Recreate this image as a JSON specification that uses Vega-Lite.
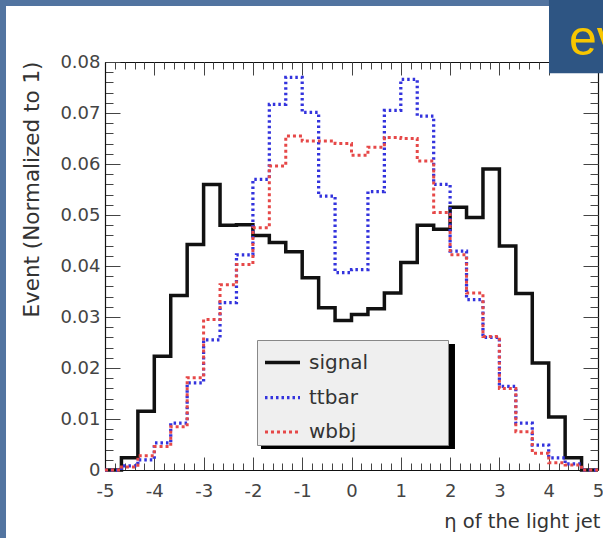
{
  "$schema": "https://vega.github.io/schema/vega-lite/v6.json",
  "width": 493,
  "height": 408,
  "autosize": {"type": "none"},
  "padding": {"left": 105, "top": 62, "right": 5, "bottom": 68},
  "background": "white",
  "config": {
    "view": {"stroke": null},
    "axis": {"grid": false, "domainColor": "#111111", "domainWidth": 1.2, "tickColor": "#444444", "tickWidth": 1, "labelFont": "DejaVu Sans", "labelFontSize": 18, "labelColor": "#444444", "titleFont": "DejaVu Sans", "titleFontSize": 19.5, "titleFontWeight": "normal", "titleColor": "#333333", "labelOverlap": false, "labelFlush": false, "zindex": 0}
  },
  "datasets": {
    "hist": [
      {"series": "signal", "eta": -5, "frac": 0},
      {"series": "signal", "eta": -4.6667, "frac": 0.0024},
      {"series": "signal", "eta": -4.3333, "frac": 0.0115},
      {"series": "signal", "eta": -4, "frac": 0.0223},
      {"series": "signal", "eta": -3.6667, "frac": 0.0342},
      {"series": "signal", "eta": -3.3333, "frac": 0.0442},
      {"series": "signal", "eta": -3, "frac": 0.056},
      {"series": "signal", "eta": -2.6667, "frac": 0.048},
      {"series": "signal", "eta": -2.3333, "frac": 0.0481},
      {"series": "signal", "eta": -2, "frac": 0.046},
      {"series": "signal", "eta": -1.6667, "frac": 0.0446},
      {"series": "signal", "eta": -1.3333, "frac": 0.0428},
      {"series": "signal", "eta": -1, "frac": 0.0377},
      {"series": "signal", "eta": -0.6667, "frac": 0.0318},
      {"series": "signal", "eta": -0.3333, "frac": 0.0293},
      {"series": "signal", "eta": 0, "frac": 0.0305},
      {"series": "signal", "eta": 0.3333, "frac": 0.0316},
      {"series": "signal", "eta": 0.6667, "frac": 0.0347},
      {"series": "signal", "eta": 1, "frac": 0.0407},
      {"series": "signal", "eta": 1.3333, "frac": 0.048},
      {"series": "signal", "eta": 1.6667, "frac": 0.0472},
      {"series": "signal", "eta": 2, "frac": 0.0515},
      {"series": "signal", "eta": 2.3333, "frac": 0.0495},
      {"series": "signal", "eta": 2.6667, "frac": 0.059},
      {"series": "signal", "eta": 3, "frac": 0.0439},
      {"series": "signal", "eta": 3.3333, "frac": 0.0346},
      {"series": "signal", "eta": 3.6667, "frac": 0.021},
      {"series": "signal", "eta": 4, "frac": 0.0104},
      {"series": "signal", "eta": 4.3333, "frac": 0.0024},
      {"series": "signal", "eta": 4.6667, "frac": 0},
      {"series": "signal", "eta": 5, "frac": 0},
      {"series": "ttbar", "eta": -5, "frac": 0},
      {"series": "ttbar", "eta": -4.6667, "frac": 0.0008},
      {"series": "ttbar", "eta": -4.3333, "frac": 0.002},
      {"series": "ttbar", "eta": -4, "frac": 0.0053},
      {"series": "ttbar", "eta": -3.6667, "frac": 0.0092},
      {"series": "ttbar", "eta": -3.3333, "frac": 0.0171},
      {"series": "ttbar", "eta": -3, "frac": 0.0255},
      {"series": "ttbar", "eta": -2.6667, "frac": 0.0328},
      {"series": "ttbar", "eta": -2.3333, "frac": 0.0422},
      {"series": "ttbar", "eta": -2, "frac": 0.057},
      {"series": "ttbar", "eta": -1.6667, "frac": 0.0717},
      {"series": "ttbar", "eta": -1.3333, "frac": 0.077},
      {"series": "ttbar", "eta": -1, "frac": 0.0701},
      {"series": "ttbar", "eta": -0.6667, "frac": 0.0537},
      {"series": "ttbar", "eta": -0.3333, "frac": 0.0387},
      {"series": "ttbar", "eta": 0, "frac": 0.0393},
      {"series": "ttbar", "eta": 0.3333, "frac": 0.0546},
      {"series": "ttbar", "eta": 0.6667, "frac": 0.0705},
      {"series": "ttbar", "eta": 1, "frac": 0.0766},
      {"series": "ttbar", "eta": 1.3333, "frac": 0.0694},
      {"series": "ttbar", "eta": 1.6667, "frac": 0.056},
      {"series": "ttbar", "eta": 2, "frac": 0.0429},
      {"series": "ttbar", "eta": 2.3333, "frac": 0.0334},
      {"series": "ttbar", "eta": 2.6667, "frac": 0.026},
      {"series": "ttbar", "eta": 3, "frac": 0.0164},
      {"series": "ttbar", "eta": 3.3333, "frac": 0.0092},
      {"series": "ttbar", "eta": 3.6667, "frac": 0.0049},
      {"series": "ttbar", "eta": 4, "frac": 0.0024},
      {"series": "ttbar", "eta": 4.3333, "frac": 0.0012},
      {"series": "ttbar", "eta": 4.6667, "frac": 0},
      {"series": "ttbar", "eta": 5, "frac": 0},
      {"series": "wbbj", "eta": -5, "frac": 0},
      {"series": "wbbj", "eta": -4.6667, "frac": 0.0006},
      {"series": "wbbj", "eta": -4.3333, "frac": 0.0028},
      {"series": "wbbj", "eta": -4, "frac": 0.0046},
      {"series": "wbbj", "eta": -3.6667, "frac": 0.0085},
      {"series": "wbbj", "eta": -3.3333, "frac": 0.0181},
      {"series": "wbbj", "eta": -3, "frac": 0.0295},
      {"series": "wbbj", "eta": -2.6667, "frac": 0.0363},
      {"series": "wbbj", "eta": -2.3333, "frac": 0.0403},
      {"series": "wbbj", "eta": -2, "frac": 0.0475},
      {"series": "wbbj", "eta": -1.6667, "frac": 0.0596},
      {"series": "wbbj", "eta": -1.3333, "frac": 0.0655},
      {"series": "wbbj", "eta": -1, "frac": 0.0645},
      {"series": "wbbj", "eta": -0.6667, "frac": 0.0645},
      {"series": "wbbj", "eta": -0.3333, "frac": 0.064},
      {"series": "wbbj", "eta": 0, "frac": 0.0617},
      {"series": "wbbj", "eta": 0.3333, "frac": 0.0633},
      {"series": "wbbj", "eta": 0.6667, "frac": 0.0652},
      {"series": "wbbj", "eta": 1, "frac": 0.065},
      {"series": "wbbj", "eta": 1.3333, "frac": 0.0606},
      {"series": "wbbj", "eta": 1.6667, "frac": 0.0505},
      {"series": "wbbj", "eta": 2, "frac": 0.0422},
      {"series": "wbbj", "eta": 2.3333, "frac": 0.0347},
      {"series": "wbbj", "eta": 2.6667, "frac": 0.0262},
      {"series": "wbbj", "eta": 3, "frac": 0.016},
      {"series": "wbbj", "eta": 3.3333, "frac": 0.0075},
      {"series": "wbbj", "eta": 3.6667, "frac": 0.0033},
      {"series": "wbbj", "eta": 4, "frac": 0.0014},
      {"series": "wbbj", "eta": 4.3333, "frac": 0.001},
      {"series": "wbbj", "eta": 4.6667, "frac": 0},
      {"series": "wbbj", "eta": 5, "frac": 0}
    ]
  },
  "resolve": {"axis": {"x": "independent", "y": "independent"}},
  "layer": [
    {
      "data": {"values": [{}]},
      "mark": {"type": "rect", "fill": "#5274a0"},
      "encoding": {
        "x": {"datum": -7.3, "type": "quantitative", "scale": {"domain": [-5, 5], "nice": false, "zero": false},
          "axis": {"orient": "top", "values": [-5, 5], "ticks": false, "labels": false, "domain": true, "title": null}},
        "x2": {"datum": 5.3},
        "y": {"datum": 0.0935, "type": "quantitative", "scale": {"domain": [0, 0.08], "nice": false, "zero": false},
          "axis": {"orient": "right", "values": [0, 0.08], "ticks": false, "labels": false, "domain": true, "title": null}},
        "y2": {"datum": 0.091}
      }
    },
    {
      "data": {"values": [{}]},
      "mark": {"type": "rect", "fill": "#5274a0"},
      "encoding": {
        "x": {"datum": -7.3, "type": "quantitative", "scale": {"domain": [-5, 5], "nice": false, "zero": false},
          "axis": {"orient": "top", "values": [-5,-4,-3,-2,-1,0,1,2,3,4,5], "tickSize": 13, "offset": -13, "labels": false, "domain": false, "title": null}},
        "x2": {"datum": -7.008},
        "y": {"datum": 0.1, "type": "quantitative", "scale": {"domain": [0, 0.08], "nice": false, "zero": false},
          "axis": {"orient": "right", "values": [0,0.01,0.02,0.03,0.04,0.05,0.06,0.07,0.08], "tickSize": 15, "offset": -15, "labels": false, "domain": false, "title": null}},
        "y2": {"datum": -0.02}
      }
    },
    {
      "data": {"values": [{}]},
      "mark": {"type": "rect", "fill": "#2e5583"},
      "encoding": {
        "x": {"datum": 4.006, "type": "quantitative", "scale": {"domain": [-5, 5], "nice": false, "zero": false},
          "axis": {"orient": "top", "values": [-5,-4.8,-4.6,-4.4,-4.2,-4,-3.8,-3.6,-3.4,-3.2,-3,-2.8,-2.6,-2.4,-2.2,-2,-1.8,-1.6,-1.4,-1.2,-1,-0.8,-0.6,-0.4,-0.2,0,0.2,0.4,0.6,0.8,1,1.2,1.4,1.6,1.8,2,2.2,2.4,2.6,2.8,3,3.2,3.4,3.6,3.8,4,4.2,4.4,4.6,4.8,5], "tickSize": 7, "offset": -7, "labels": false, "domain": false, "title": null}},
        "x2": {"datum": 5.3},
        "y": {"datum": 0.0935, "type": "quantitative", "scale": {"domain": [0, 0.08], "nice": false, "zero": false},
          "axis": {"orient": "right", "values": [0,0.002,0.004,0.006,0.008,0.01,0.012,0.014,0.016,0.018,0.02,0.022,0.024,0.026,0.028,0.03,0.032,0.034,0.036,0.038,0.04,0.042,0.044,0.046,0.048,0.05,0.052,0.054,0.056,0.058,0.06,0.062,0.064,0.066,0.068,0.07,0.072,0.074,0.076,0.078,0.08], "tickSize": 8, "offset": -8, "labels": false, "domain": false, "title": null}},
        "y2": {"datum": 0.0778}
      }
    },
    {
      "data": {"values": [{"word": "ev"}]},
      "mark": {"type": "text", "align": "left", "baseline": "alphabetic", "font": "Liberation Sans", "fontSize": 50, "color": "#f8c600"},
      "encoding": {
        "x": {"datum": 4.41, "type": "quantitative", "scale": {"domain": [-5, 5], "nice": false, "zero": false},
          "axis": {"orient": "bottom", "values": [-5,-4.8,-4.6,-4.4,-4.2,-4,-3.8,-3.6,-3.4,-3.2,-3,-2.8,-2.6,-2.4,-2.2,-2,-1.8,-1.6,-1.4,-1.2,-1,-0.8,-0.6,-0.4,-0.2,0,0.2,0.4,0.6,0.8,1,1.2,1.4,1.6,1.8,2,2.2,2.4,2.6,2.8,3,3.2,3.4,3.6,3.8,4,4.2,4.4,4.6,4.8,5], "tickSize": 7, "offset": -7, "labels": false, "domain": false, "title": null}},
        "y": {"datum": 0.0814, "type": "quantitative", "scale": {"domain": [0, 0.08], "nice": false, "zero": false},
          "axis": {"orient": "left", "values": [0,0.002,0.004,0.006,0.008,0.01,0.012,0.014,0.016,0.018,0.02,0.022,0.024,0.026,0.028,0.03,0.032,0.034,0.036,0.038,0.04,0.042,0.044,0.046,0.048,0.05,0.052,0.054,0.056,0.058,0.06,0.062,0.064,0.066,0.068,0.07,0.072,0.074,0.076,0.078,0.08], "tickSize": 8, "offset": -8, "labels": false, "domain": false, "title": null}},
        "text": {"field": "word"}
      }
    },
    {
      "data": {"values": [{}]},
      "mark": {"type": "rect", "fill": "#000000"},
      "encoding": {
        "x": {"datum": -1.836, "type": "quantitative", "scale": {"domain": [-5, 5], "nice": false, "zero": false},
          "axis": {"orient": "bottom", "values": [-5,-4,-3,-2,-1,0,1,2,3,4,5], "tickSize": 13, "offset": -13, "labels": false, "domain": false, "title": null}},
        "x2": {"datum": 2.099},
        "y": {"datum": 0.0247, "type": "quantitative", "scale": {"domain": [0, 0.08], "nice": false, "zero": false},
          "axis": {"orient": "left", "values": [0,0.01,0.02,0.03,0.04,0.05,0.06,0.07,0.08], "tickSize": 15, "offset": -15, "labels": false, "domain": false, "title": null}},
        "y2": {"datum": 0.0041}
      }
    },
    {
      "data": {"name": "hist"},
      "mark": {"type": "line", "interpolate": "step-after", "strokeCap": "butt", "strokeJoin": "miter"},
      "encoding": {
        "x": {"field": "eta", "type": "quantitative", "scale": {"domain": [-5, 5], "nice": false, "zero": false},
          "axis": {"orient": "bottom", "values": [-5,-4,-3,-2,-1,0,1,2,3,4,5], "ticks": false, "labelPadding": 12, "labelExpr": "'' + datum.value", "title": "η of the light jet", "titleX": 495, "titleY": 57, "titleAlign": "right", "titleBaseline": "alphabetic", "titleAngle": 0}},
        "y": {"field": "frac", "type": "quantitative", "scale": {"domain": [0, 0.08], "nice": false, "zero": false},
          "axis": {"orient": "left", "values": [0,0.01,0.02,0.03,0.04,0.05,0.06,0.07,0.08], "ticks": false, "labelPadding": 5, "labelExpr": "datum.value == 0 ? '0' : format(datum.value, '.2f')", "title": "Event (Normalized to 1)", "titleFontSize": 21.5, "titleX": -73, "titleY": -1, "titleAngle": 270, "titleAlign": "right", "titleBaseline": "middle"}},
        "color": {"field": "series", "type": "nominal",
          "scale": {"domain": ["signal", "ttbar", "wbbj"], "range": ["#111111", "#3333dd", "#e64848"]},
          "legend": {"orient": "none", "legendX": 152, "legendY": 278, "title": null, "fillColor": "#efefef", "strokeColor": "#888888", "padding": 3, "rowPadding": 5, "symbolOffset": 3, "labelFont": "DejaVu Sans", "labelFontSize": 20, "labelColor": "#333333", "labelOffset": 7, "symbolType": "stroke", "symbolSize": 1225, "symbolStrokeWidth": 3, "labelLimit": 400, "labelExpr": "datum.label + '            \u200b'", "cornerRadius": 0}},
        "strokeDash": {"field": "series", "type": "nominal",
          "scale": {"domain": ["signal", "ttbar", "wbbj"], "range": [[1, 0], [2.5, 3], [3, 3]]}},
        "strokeWidth": {"field": "series", "type": "ordinal",
          "scale": {"domain": ["signal", "ttbar", "wbbj"], "range": [3.5, 3, 2.5]}, "legend": null}
      }
    }
  ]
}
